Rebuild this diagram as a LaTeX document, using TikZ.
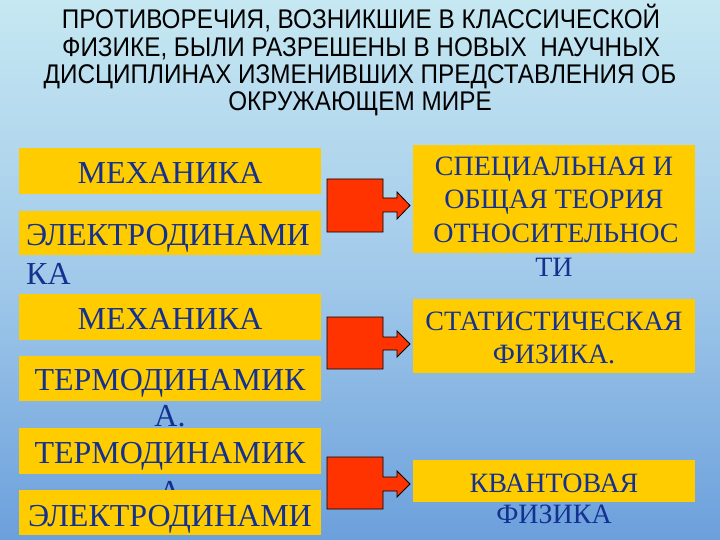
\documentclass[tikz,border=0pt]{standalone}
\usepackage{fontspec}
\setmainfont{Liberation Serif}
\newfontfamily\titlefont[FakeStretch=0.9]{Liberation Sans}
\definecolor{bgtop}{HTML}{C6E8F2}
\definecolor{bgmid}{HTML}{A2CAEA}
\definecolor{bgbot}{HTML}{6CA0DC}
\definecolor{boxy}{HTML}{FFCC00}
\definecolor{arr}{HTML}{FF3300}
\definecolor{txt}{HTML}{15318F}
\tikzset{
  ybox/.style={fill=boxy, draw=none},
  ttl/.style={anchor=base, inner sep=0pt, font=\titlefont\fontsize{27}{29}\selectfont, text=black},
  lbl/.style={anchor=base, inner sep=0pt, font=\fontsize{32}{36}\selectfont, text=txt},
  rlbl/.style={anchor=base, inner sep=0pt, font=\fontsize{28}{33}\selectfont, text=txt},
  arrowshape/.style={fill=arr, draw=black, line width=0.8pt, line join=miter}
}
\begin{document}
\begin{tikzpicture}[x=1pt,y=-1pt]
\shade[top color=bgtop, bottom color=bgbot, middle color=bgmid] (0,0) rectangle (720,540);
\useasboundingbox (0,0) rectangle (720,540);
% title
\node[ttl] (t1) at (361,29) {ПРОТИВОРЕЧИЯ, ВОЗНИКШИЕ В КЛАССИЧЕСКОЙ};
\node[ttl] (t2) at (361,57) {ФИЗИКЕ, БЫЛИ РАЗРЕШЕНЫ В НОВЫХ\ \ НАУЧНЫХ};
\node[ttl] (t3) at (360,84) {ДИСЦИПЛИНАХ ИЗМЕНИВШИХ ПРЕДСТАВЛЕНИЯ ОБ};
\node[ttl] (t4) at (360,111) {ОКРУЖАЮЩЕМ МИРЕ};
% left boxes
\fill[ybox] (19,148) rectangle (321,194);
\node[lbl] (l1) at (170,184) {МЕХАНИКА};
\fill[ybox] (19,211) rectangle (321,255);
\node[lbl, anchor=base west] (l2) at (26,245) {ЭЛЕКТРОДИНАМИ};
\node[lbl, anchor=base west] (l2b) at (26,284) {КА};
\fill[ybox] (19,294) rectangle (321,340);
\node[lbl] (l3) at (170,329) {МЕХАНИКА};
\fill[ybox] (19,356) rectangle (321,401);
\node[lbl] (l4) at (170,390) {ТЕРМОДИНАМИК};
\node[lbl] (l4b) at (170,426) {А.};
\fill[ybox] (19,428) rectangle (321,474);
\node[lbl] (l5) at (170,463) {ТЕРМОДИНАМИК};
\node[lbl] (l5b) at (170,502) {А};
\fill[ybox] (19,490) rectangle (321,535);
\node[lbl] (l6) at (170,526) {ЭЛЕКТРОДИНАМИ};
% right boxes
\fill[ybox] (413,145) rectangle (695,253);
\node[rlbl] (r1a) at (554,176) {СПЕЦИАЛЬНАЯ И};
\node[rlbl] (r1b) at (554,209) {ОБЩАЯ ТЕОРИЯ};
\node[rlbl] (r1c) at (556,242) {ОТНОСИТЕЛЬНОС};
\node[rlbl] (r1d) at (554,276) {ТИ};
\fill[ybox] (413,299) rectangle (695,373);
\node[rlbl] (r2a) at (554,330) {СТАТИСТИЧЕСКАЯ};
\node[rlbl] (r2b) at (554,363) {ФИЗИКА.};
\fill[ybox] (413,460) rectangle (695,502);
\node[rlbl] (r3a) at (554,492) {КВАНТОВАЯ};
\node[rlbl] (r3b) at (554,523) {ФИЗИКА};
% arrows
\draw[arrowshape] (327,179) -- (383,179) -- (383,198) -- (397,198) -- (397,192) -- (410,205.5) -- (397,219) -- (397,212) -- (383,212) -- (383,232) -- (327,232) -- cycle;
\draw[arrowshape] (327,317) -- (383,317) -- (383,337) -- (397,337) -- (397,331) -- (410,344) -- (397,357) -- (397,350) -- (383,350) -- (383,369) -- (327,369) -- cycle;
\draw[arrowshape] (327,457) -- (383,457) -- (383,477) -- (397,477) -- (397,471) -- (410,484) -- (397,497) -- (397,491) -- (383,491) -- (383,509) -- (327,509) -- cycle;
\end{tikzpicture}
\end{document}
